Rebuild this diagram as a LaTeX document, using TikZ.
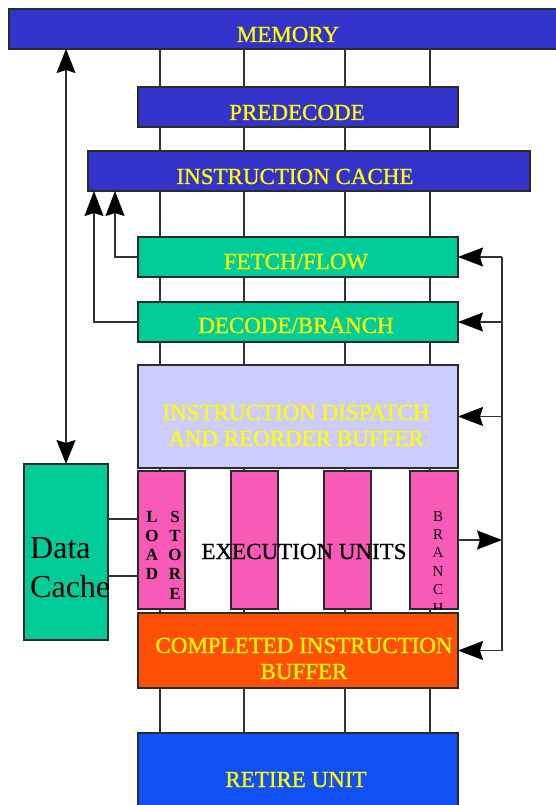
\documentclass[tikz,border=0pt]{standalone}
\usepackage{fontspec}
\setmainfont{Liberation Serif}
\newfontface\ttlfont{Liberation Serif}[FakeBold=0.8]
\usetikzlibrary{arrows.meta}
\definecolor{memblue}{HTML}{3333CC}
\definecolor{teal}{HTML}{00CC99}
\definecolor{lavender}{HTML}{CCCCFF}
\definecolor{unitpink}{HTML}{F95AB8}
\definecolor{cibred}{HTML}{FF5005}
\definecolor{retblue}{HTML}{1050F5}
\definecolor{ttlyellow}{HTML}{FFFF00}
\definecolor{edge}{HTML}{2B2B2B}
\definecolor{wirecol}{HTML}{333333}
\begin{document}
\begin{tikzpicture}[x=1pt,y=-1pt,
  blk/.style={draw=edge, line width=1.2pt, anchor=north west, inner sep=0pt, outer sep=0pt},
  ttl/.style={text=ttlyellow, font=\ttlfont\fontsize{23}{27}\selectfont, anchor=base, inner sep=0pt},
  wire/.style={draw=wirecol, line width=1.2pt},
  arr/.style={wire, -{Stealth[length=25pt,width=19pt,inset=3pt,color=black]}},
  dblarr/.style={wire, {Stealth[length=24pt,width=19pt,inset=3pt,color=black]}-{Stealth[length=24pt,width=19pt,inset=3pt,color=black]}},
  vlet/.style={font=\bfseries\fontsize{17}{17}\selectfont, anchor=base, inner sep=0pt},
  blet/.style={font=\fontsize{15}{15}\selectfont, anchor=base, inner sep=0pt},
]
\useasboundingbox (0,0) rectangle (555,805);

% bus column positions and side rails
\coordinate (b1) at (160,0);
\coordinate (b2) at (244,0);
\coordinate (b3) at (345,0);
\coordinate (b4) at (430,0);
\coordinate (rail) at (502,0);
\coordinate (ffx) at (115,0);
\coordinate (dbx) at (94,0);
\coordinate (dcA) at (0,519);
\coordinate (dcB) at (0,576);

% pipeline blocks
\node[blk, fill=memblue, minimum width=561pt, minimum height=40pt] (mem) at (9,9) {};
\node[blk, fill=memblue, minimum width=320pt, minimum height=40pt] (pre) at (138,87) {};
\node[blk, fill=memblue, minimum width=442pt, minimum height=40pt] (ic) at (88,151) {};
\node[blk, fill=teal, minimum width=320pt, minimum height=40pt] (ff) at (138,237) {};
\node[blk, fill=teal, minimum width=320pt, minimum height=40pt] (db) at (138,302) {};
\node[blk, fill=lavender, minimum width=320pt, minimum height=103pt] (disp) at (138,365) {};
\node[blk, fill=unitpink, minimum width=47pt, minimum height=138pt] (ls) at (138,471) {};
\node[blk, fill=unitpink, minimum width=47pt, minimum height=138pt] (eu2) at (231,471) {};
\node[blk, fill=unitpink, minimum width=47pt, minimum height=138pt] (eu3) at (324,471) {};
\node[blk, fill=unitpink, minimum width=48pt, minimum height=138pt] (br) at (410,471) {};
\node[blk, fill=cibred, minimum width=320pt, minimum height=75pt] (cib) at (138,613) {};
\node[blk, fill=retblue, minimum width=320pt, minimum height=85pt] (ret) at (138,733) {};
\node[blk, fill=teal, minimum width=84pt, minimum height=176pt] (dc) at (24,464) {};

% block titles
\node[ttl] (memt) at (288,42) {MEMORY};
\node[ttl] (pret) at (297,120) {PREDECODE};
\node[ttl] (ict) at (295,184) {INSTRUCTION CACHE};
\node[ttl] (fft) at (296,269) {FETCH/FLOW};
\node[ttl] (dbt) at (296,333) {DECODE/BRANCH};
\node[ttl] (dispa) at (296,420) {INSTRUCTION DISPATCH};
\node[ttl] (dispb) at (296,446) {AND REORDER BUFFER};
\node[ttl] (ciba) at (304,653) {COMPLETED INSTRUCTION};
\node[ttl] (cibb) at (304,679) {BUFFER};
\node[ttl] (rett) at (296,787) {RETIRE UNIT};
\node[ttl, text=black] (eut) at (304,559) {EXECUTION UNITS};
\node[font=\fontsize{32}{32}\selectfont, anchor=base west, inner sep=0pt] (dct1) at (30,558) {Data};
\node[font=\fontsize{32}{32}\selectfont, anchor=base west, inner sep=0pt] (dct2) at (30,597) {Cache};

% vertical unit labels
\foreach \c [count=\i] in {L,O,A,D}
  \node[vlet] (ld\i) at (152,{522+19.25*(\i-1)}) {\c};
\foreach \c [count=\i] in {S,T,O,R,E}
  \node[vlet] (st\i) at (175,{522+19.25*(\i-1)}) {\c};
\begin{scope}
  \clip (br.north west) rectangle (br.south east);
  \foreach \c [count=\i] in {B,R,A,N,C,H}
    \node[blet] (brl\i) at (438,{521+18.4*(\i-1)}) {\c};
\end{scope}

% data buses between stages
\foreach \b in {b1,b2,b3,b4} {
  \draw[wire] (mem.south -| \b) -- (pre.north -| \b);
  \draw[wire] (pre.south -| \b) -- (ic.north -| \b);
  \draw[wire] (ic.south -| \b) -- (ff.north -| \b);
  \draw[wire] (ff.south -| \b) -- (db.north -| \b);
  \draw[wire] (db.south -| \b) -- (disp.north -| \b);
  \draw[wire] (cib.south -| \b) -- (ret.north -| \b);
}
\draw[wire] (disp.south -| b1) -- (ls.north -| b1);
\draw[wire] (disp.south -| b2) -- (eu2.north -| b2);
\draw[wire] (disp.south -| b3) -- (eu3.north -| b3);
\draw[wire] (disp.south -| b4) -- (br.north -| b4);
\draw[wire] (ls.south -| b1) -- (cib.north -| b1);
\draw[wire] (eu2.south -| b2) -- (cib.north -| b2);
\draw[wire] (eu3.south -| b3) -- (cib.north -| b3);
\draw[wire] (br.south -| b4) -- (cib.north -| b4);

% memory <-> data cache
\draw[dblarr] (dc.north) -- (dc.north |- mem.south);
\draw[wire] (dc.east |- dcA) -- (ls.west |- dcA);
\draw[wire] (dc.east |- dcB) -- (ls.west |- dcB);

% fetch and decode feedback to the instruction cache
\draw[arr] (ff.west) -- (ff.west -| ffx) -- (ic.south -| ffx);
\draw[arr] (db.west) -- (db.west -| dbx) -- (ic.south -| dbx);

% branch resolution rail on the right
\draw[arr] (br.east) -- (br.east -| rail);
\draw[wire] (ff.east -| rail) -- (cib.east -| rail);
\draw[arr] (ff.east -| rail) -- (ff.east);
\draw[arr] (db.east -| rail) -- (db.east);
\draw[arr] (disp.east -| rail) -- (disp.east);
\draw[arr] (cib.east -| rail) -- (cib.east);
\end{tikzpicture}
\end{document}
